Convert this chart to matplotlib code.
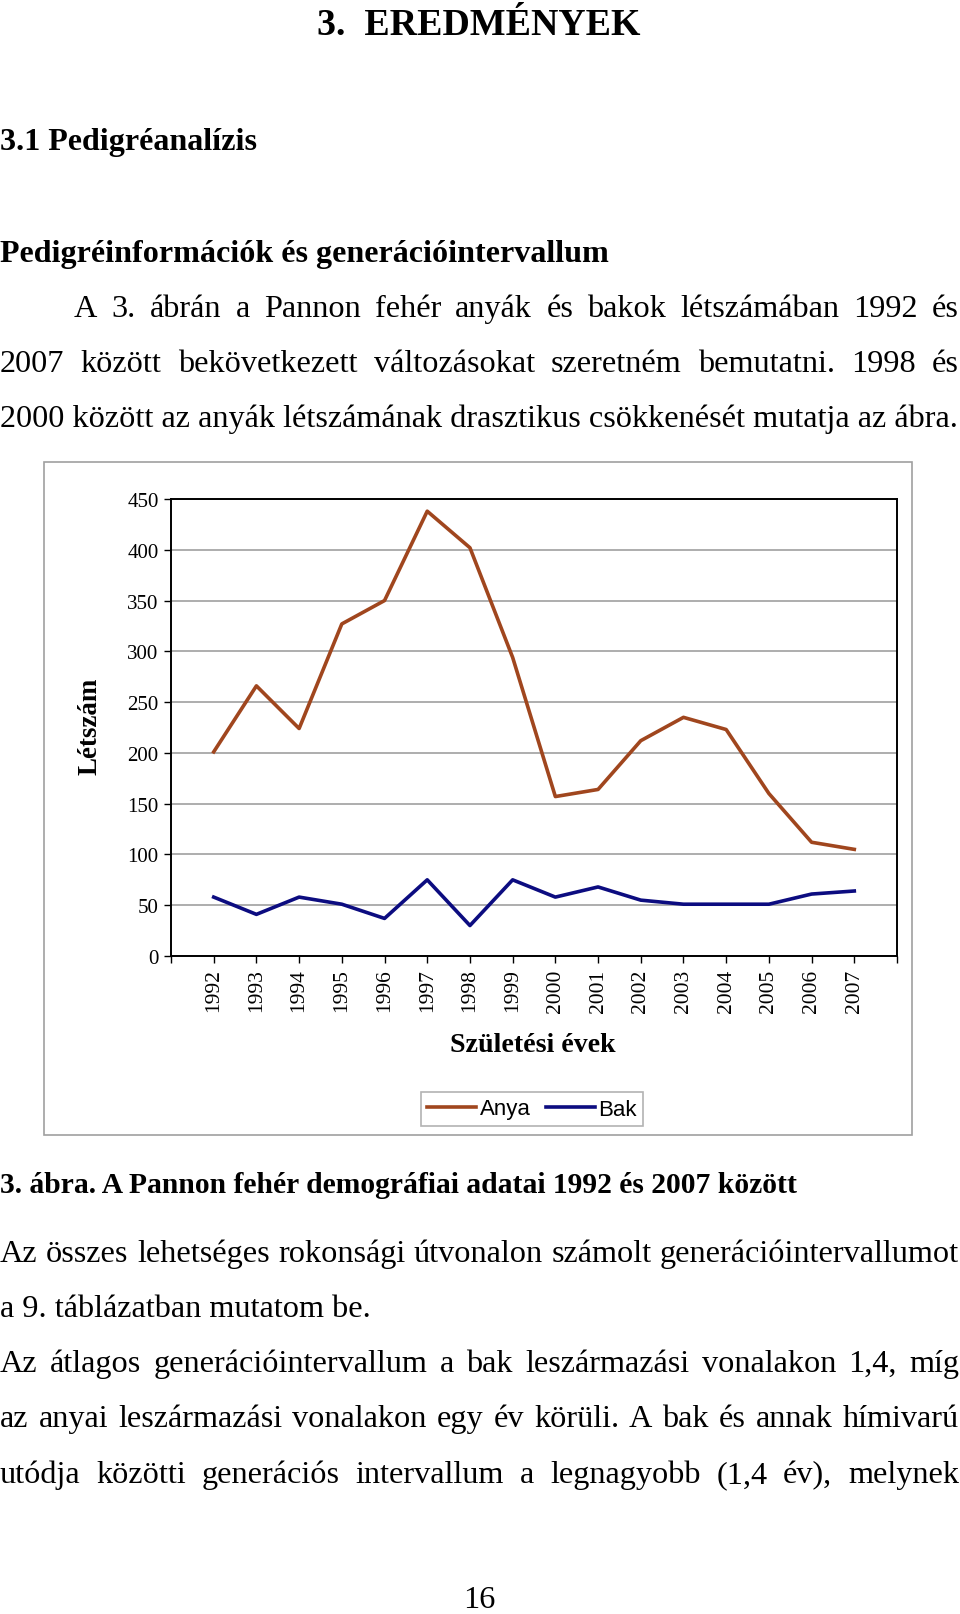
import numpy as np
import matplotlib
matplotlib.use('Agg')
import matplotlib.pyplot as plt
from matplotlib.patches import Rectangle

# data
years = ['1992', '1993', '1994', '1995', '1996', '1997', '1998', '1999',
         '2000', '2001', '2002', '2003', '2004', '2005', '2006', '2007']
anya = [201, 266, 224, 327, 350, 438, 402, 294, 157, 164, 212, 235, 223, 160, 112, 105]
bak = [58, 41, 58, 51, 37, 75, 30, 75, 58, 68, 55, 51, 51, 51, 61, 64]

title = '3.  EREDMÉNYEK'
sub1 = '3.1 Pedigréanalízis'
sub2 = 'Pedigréinformációk és generációintervallum'
par1 = ['A 3. ábrán a Pannon fehér anyák és bakok létszámában 1992 és',
        '2007 között bekövetkezett változásokat szeretném bemutatni. 1998 és',
        '2000 között az anyák létszámának drasztikus csökkenését mutatja az ábra.']
caption = '3. ábra. A Pannon fehér demográfiai adatai 1992 és 2007 között'
par2 = ['Az összes lehetséges rokonsági útvonalon számolt generációintervallumot',
        'a 9. táblázatban mutatom be.',
        'Az átlagos generációintervallum a bak leszármazási vonalakon 1,4, míg',
        'az anyai leszármazási vonalakon egy év körüli. A bak és annak hímivarú',
        'utódja közötti generációs intervallum a legnagyobb (1,4 év), melynek']
pagenum = '16'

W, H = 960, 1615
SERIF = 'Liberation Serif'
SANS = 'Liberation Sans'

fig = plt.figure(figsize=(W / 100, H / 100), dpi=100)
fig.patch.set_facecolor('white')
renderer = fig.canvas.get_renderer()


def fx(x):
    return x / W


def fy(y):
    return 1 - y / H


def width_of(t):
    return t.get_window_extent(renderer).width


def fit_size(s, target, weight='normal', family=SERIF):
    # pick a font size so the string has the wanted pixel width
    t = fig.text(0, 0, s, fontsize=20, family=family, weight=weight)
    w = width_of(t)
    t.remove()
    return 20 * target / w


def put_line(s, x, y, size, weight='normal', ha='left'):
    fig.text(fx(x), fy(y), s, fontsize=size, family=SERIF, weight=weight,
             ha=ha, va='baseline')


def put_justified(s, x0, x1, y, size):
    words = s.split()
    texts = [fig.text(0, fy(y), w, fontsize=size, family=SERIF, va='baseline')
             for w in words]
    widths = [width_of(t) for t in texts]
    gap = (x1 - x0 - sum(widths)) / (len(words) - 1)
    x = x0
    for t, w in zip(texts, widths):
        t.set_x(fx(x))
        x += w + gap


body = fit_size(par1[2], 958)
put_line(title, 479, 35, fit_size(title, 322, 'bold'), 'bold', ha='center')
put_line(sub1, 0, 150, fit_size(sub1, 257, 'bold'), 'bold')
put_line(sub2, 0, 262, fit_size(sub2, 610, 'bold'), 'bold')

put_justified(par1[0], 74, 959, 317, body)
put_justified(par1[1], 0, 959, 372, body)
put_line(par1[2], 0, 427, body)

put_line(caption, 0, 1193, fit_size(caption, 799, 'bold'), 'bold')
base2 = [1262, 1317, 1372, 1427, 1483]
for i, line in enumerate(par2):
    if i == 1:
        put_line(line, 0, base2[i], body)
    else:
        put_justified(line, 0, 959, base2[i], body)
put_line(pagenum, 479, 1608, body, ha='center')

# chart frame
fig.patches.append(Rectangle((fx(44), fy(1136)), fx(912) - fx(44), fy(463) - fy(1136),
                             transform=fig.transFigure, fill=False,
                             edgecolor='#a0a0a0', lw=1.2))

ax = fig.add_axes([fx(171), fy(957), fx(897) - fx(171), fy(500) - fy(957)])
x = np.arange(len(years))
ax.plot(x, anya, color='#a0461e', lw=2.6, label='Anya')
ax.plot(x, bak, color='#0c0c80', lw=2.6, label='Bak')
ax.set_xlim(-1, len(years))
ax.set_ylim(0, 450)
ax.set_yticks(range(0, 451, 50))
ax.set_xticks(np.arange(-1, len(years) + 1))
ax.set_xticklabels([''] + years + [''], rotation=90, family=SERIF, fontsize=15.5)
ax.set_yticklabels([str(v) for v in range(0, 451, 50)], family=SERIF, fontsize=15)
ax.tick_params(axis='both', length=5, width=1, color='black', pad=4)
ax.yaxis.grid(True, color='#a0a0a0', lw=1.2)
ax.set_axisbelow(True)
for sp in ax.spines.values():
    sp.set_linewidth(1.4)
    sp.set_color('black')

fig.text(fx(90), fy(726), 'Létszám', rotation=90, ha='center', va='center',
         family=SERIF, weight='bold', fontsize=fit_size('Létszám', 97, 'bold'))
fig.text(fx(533), fy(1045), 'Születési évek', ha='center', va='center',
         family=SERIF, weight='bold', fontsize=fit_size('Születési évek', 165, 'bold'))

leg = fig.legend(loc='center', bbox_to_anchor=(fx(532), fy(1110)), ncol=2,
                 prop={'family': SANS, 'size': 16}, frameon=True, fancybox=False,
                 edgecolor='#a0a0a0', handlelength=2.2, handletextpad=0.15,
                 columnspacing=0.7, borderpad=0.3, borderaxespad=0)
leg.get_frame().set_linewidth(1.2)

fig.savefig('out.png', dpi=100, facecolor='white')
